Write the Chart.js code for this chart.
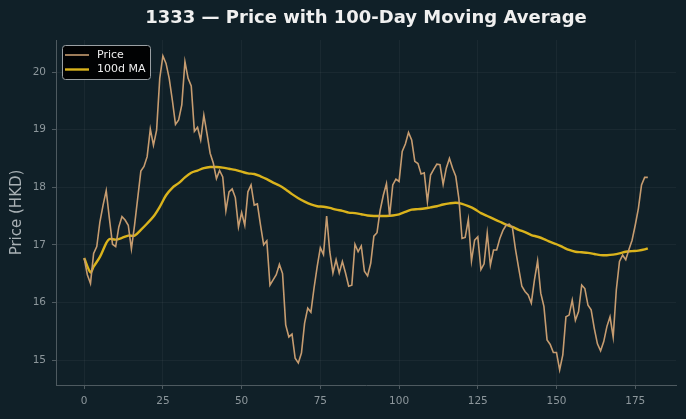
<!DOCTYPE html>
<html>
<head>
<meta charset="utf-8">
<script src="https://cdn.jsdelivr.net/npm/chart.js@4.4.0/dist/chart.umd.min.js"></script>
<style>
  html, body { margin: 0; padding: 0; background: #102028; }
  canvas { display: block; }
</style>
</head>
<body>
<canvas id="chart" width="686" height="419"></canvas>
<script>
// ── Data ──
const TITLE = '1333 — Price with 100-Day Moving Average';
const Y_LABEL = 'Price (HKD)';
const X_TICKS = [0, 25, 50, 75, 100, 125, 150, 175];
const Y_TICKS = [15, 16, 17, 18, 19, 20];

// daily close, day 0..179
const PRICE = [
    16.77, 16.48, 16.33, 16.85, 16.97, 17.40, 17.69, 17.94, 17.46, 17.01,
    16.97, 17.31, 17.49, 17.43, 17.34, 16.93, 17.34, 17.81, 18.28, 18.36,
    18.53, 19.01, 18.73, 18.99, 19.89, 20.28, 20.15, 19.89, 19.51, 19.09,
    19.17, 19.43, 20.18, 19.89, 19.76, 18.97, 19.04, 18.82, 19.25, 18.93,
    18.59, 18.42, 18.15, 18.29, 18.18, 17.59, 17.92, 17.97, 17.82, 17.31,
    17.56, 17.34, 17.92, 18.04, 17.69, 17.71, 17.34, 17.00, 17.07, 16.30,
    16.39, 16.48, 16.66, 16.50, 15.61, 15.40, 15.45, 15.03, 14.95, 15.12,
    15.64, 15.90, 15.83, 16.25, 16.62, 16.95, 16.83, 17.50, 16.88, 16.51,
    16.74, 16.51, 16.71, 16.51, 16.28, 16.30, 17.01, 16.88, 16.98, 16.54,
    16.46, 16.68, 17.15, 17.21, 17.60, 17.86, 18.06, 17.50, 18.04, 18.14,
    18.10, 18.62, 18.75, 18.95, 18.82, 18.45, 18.41, 18.23, 18.25, 17.75,
    18.21, 18.31, 18.40, 18.39, 18.05, 18.33, 18.50, 18.33, 18.19, 17.80,
    17.11, 17.13, 17.44, 16.72, 17.08, 17.14, 16.57, 16.67, 17.20, 16.65,
    16.91, 16.91, 17.11, 17.25, 17.34, 17.36, 17.30, 16.91, 16.59, 16.28,
    16.19, 16.13, 15.99, 16.39, 16.72, 16.16, 15.93, 15.35, 15.27, 15.13,
    15.13, 14.83, 15.09, 15.75, 15.78, 16.04, 15.69, 15.84, 16.30, 16.24,
    15.95, 15.87, 15.55, 15.28, 15.16, 15.32, 15.58, 15.75, 15.40, 16.22,
    16.71, 16.82, 16.74, 16.92, 17.08, 17.34, 17.63, 18.04, 18.17, 18.17
];

// 100-day moving average, sampled where read
const MA_DAYS = [
    0, 2, 3, 5, 7, 8, 10, 12, 14, 16, 18, 20, 22, 24, 26, 28, 30, 32, 34, 36,
    38, 40, 42, 44, 46, 48, 50, 52, 54, 56, 58, 60, 62, 64, 66, 68, 70, 72, 74, 76,
    78, 80, 82, 84, 86, 88, 90, 92, 94, 96, 98, 100, 102, 104, 106, 108, 110, 112, 114, 116,
    118, 120, 122, 124, 126, 128, 130, 132, 134, 136, 138, 140, 142, 144, 146, 148, 150, 152, 154, 156,
    158, 160, 162, 164, 166, 168, 170, 172, 174, 176, 178, 179
];
const MA_VALUES = [
    16.77, 16.52, 16.62, 16.79, 17.03, 17.10, 17.09, 17.12, 17.16, 17.16, 17.26, 17.37, 17.49, 17.66, 17.86, 17.99, 18.07, 18.17, 18.25, 18.29,
    18.33, 18.35, 18.35, 18.34, 18.32, 18.30, 18.27, 18.24, 18.23, 18.19, 18.14, 18.08, 18.03, 17.96, 17.88, 17.81, 17.75, 17.70, 17.67, 17.66,
    17.64, 17.61, 17.59, 17.56, 17.55, 17.53, 17.51, 17.50, 17.50, 17.50, 17.51, 17.53, 17.57, 17.61, 17.62, 17.63, 17.65, 17.67, 17.70, 17.72,
    17.73, 17.71, 17.67, 17.62, 17.55, 17.50, 17.45, 17.40, 17.35, 17.31, 17.26, 17.22, 17.17, 17.14, 17.10, 17.05, 17.01, 16.96, 16.91, 16.88,
    16.87, 16.86, 16.84, 16.82, 16.82, 16.83, 16.85, 16.88, 16.89, 16.90, 16.92, 16.94
];

const C = {
    bg: '#102028', price: '#c69c70', ma: '#dab31c',
    grid: 'rgba(255,255,255,0.045)', spine: '#4e5a60',
    tick: '#8d979c', label: '#a9b1b5', title: '#f0f0f0'
};
const FONT = '"DejaVu Sans", sans-serif';

// ── Background, title and legend drawn on the canvas ──
const decor = {
    id: 'decor',
    beforeDraw(chart) {
        const ctx = chart.ctx;
        ctx.save();
        ctx.fillStyle = C.bg;
        ctx.fillRect(0, 0, chart.width, chart.height);
        ctx.restore();
    },
    afterDraw(chart) {
        const ctx = chart.ctx, a = chart.chartArea;
        ctx.save();
        ctx.fillStyle = C.title;
        ctx.font = 'bold 18px ' + FONT;
        ctx.textAlign = 'center'; ctx.textBaseline = 'middle';
        ctx.fillText(TITLE, (a.left + a.right) / 2, 18);

        // legend box
        const bx = 62.5, by = 45.5, bw = 88, bh = 34, r = 3;
        ctx.beginPath();
        ctx.moveTo(bx + r, by);
        ctx.arcTo(bx + bw, by, bx + bw, by + bh, r);
        ctx.arcTo(bx + bw, by + bh, bx, by + bh, r);
        ctx.arcTo(bx, by + bh, bx, by, r);
        ctx.arcTo(bx, by, bx + bw, by, r);
        ctx.closePath();
        ctx.fillStyle = 'rgba(0,0,0,0.92)';
        ctx.fill();
        ctx.strokeStyle = '#9aa0a4'; ctx.lineWidth = 1;
        ctx.stroke();

        const rows = [['Price', C.price, 1.6], ['100d MA', C.ma, 2.4]];
        ctx.font = '11px ' + FONT;
        ctx.textAlign = 'left';
        rows.forEach(([txt, col, w], i) => {
            const y = 55 + i * 14.5;
            ctx.strokeStyle = col; ctx.lineWidth = w;
            ctx.beginPath(); ctx.moveTo(65, y); ctx.lineTo(89, y); ctx.stroke();
            ctx.fillStyle = '#eeeeee';
            ctx.fillText(txt, 97, y);
        });
        ctx.restore();
    }
};

new Chart(document.getElementById('chart').getContext('2d'), {
    type: 'line',
    data: {
        datasets: [
            { label: 'Price', data: PRICE.map((v, i) => ({ x: i, y: v })),
              borderColor: C.price, borderWidth: 1.6, pointRadius: 0, tension: 0 },
            { label: '100d MA', data: MA_DAYS.map((d, i) => ({ x: d, y: MA_VALUES[i] })),
              borderColor: C.ma, borderWidth: 2.4, pointRadius: 0, tension: 0.3 }
        ]
    },
    options: {
        responsive: false, animation: false,
        layout: { padding: { top: 40, right: 10, left: 0, bottom: 0 } },
        plugins: { legend: { display: false }, tooltip: { enabled: false }, title: { display: false } },
        scales: {
            x: {
                type: 'linear', min: -8.95, max: 187.95,
                afterBuildTicks: (s) => { s.ticks = X_TICKS.map(v => ({ value: v })); },
                afterFit: (s) => { s.height = 34; },
                grid: { color: C.grid, tickColor: C.spine, tickLength: 4 },
                border: { color: C.spine, width: 1 },
                ticks: { color: C.tick, font: { family: FONT, size: 10.5 }, padding: 6, maxRotation: 0 }
            },
            y: {
                min: 14.566, max: 20.556,
                afterBuildTicks: (s) => { s.ticks = Y_TICKS.map(v => ({ value: v })); },
                afterFit: (s) => { s.width = 56; },
                grid: { color: C.grid, tickColor: C.spine, tickLength: 4 },
                border: { color: C.spine, width: 1 },
                ticks: { color: C.tick, font: { family: FONT, size: 10.5 }, padding: 6 },
                title: { display: true, text: Y_LABEL, color: C.label,
                         font: { family: FONT, size: 15 }, padding: { top: 8, bottom: 0 } }
            }
        }
    },
    plugins: [decor]
});
</script>
</body>
</html>
